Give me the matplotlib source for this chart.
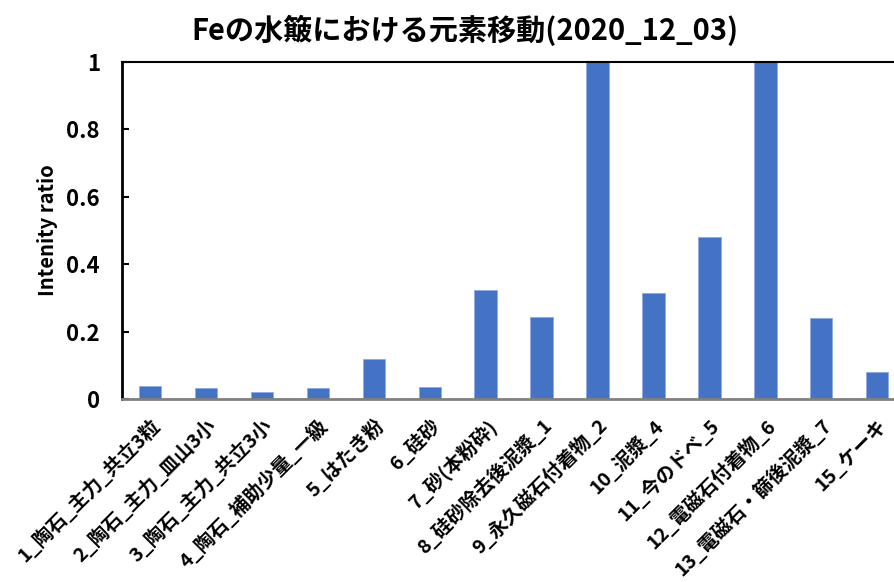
import matplotlib.pyplot as plt

plt.rcParams['font.family'] = ['Noto Sans CJK JP', 'DejaVu Sans']

# データ
labels = ["1_陶石_主力_共立3粒", "2_陶石_主力_皿山3小", "3_陶石_主力_共立3小",
          "4_陶石_補助少量_一級", "5_はたき粉", "6_硅砂", "7_砂(本粉砕)",
          "8_硅砂除去後泥漿_1", "9_永久磁石付着物_2", "10_泥漿_4", "11_今のドベ_5",
          "12_電磁石付着物_6", "13_電磁石・篩後泥漿_7", "15_ケーキ"]
values = [0.039, 0.034, 0.021, 0.034, 0.12, 0.036, 0.323,
          0.243, 1.0, 0.314, 0.48, 1.0, 0.24, 0.08]
yticks = [0, 0.2, 0.4, 0.6, 0.8, 1]
yticklabels = ["0", "0.2", "0.4", "0.6", "0.8", "1"]

fig = plt.figure(figsize=(8.94, 5.82), dpi=100)
ax = fig.add_axes([0.1365, 0.3144, 0.8635, 0.579])

x = list(range(len(labels)))
ax.bar(x, values, width=0.4, color="#4472C4", edgecolor="#8FAADC", linewidth=0.6)

ax.set_xlim(-0.5, 13.3)
ax.set_ylim(0, 1)
ax.set_yticks(yticks)
ax.set_yticklabels(yticklabels, fontsize=16, fontweight="bold")
ax.tick_params(axis="y", direction="in", length=5, width=1.5, pad=16)
ax.set_xticks(x)
ax.set_xticklabels(labels, rotation=45, ha="right", rotation_mode="anchor",
                   fontsize=14, fontweight="bold")
ax.tick_params(axis="x", length=0, pad=12)

ax.spines["right"].set_visible(False)
ax.spines["left"].set_linewidth(2)
ax.spines["top"].set_linewidth(1.5)
ax.spines["bottom"].set_color("#808080")
ax.spines["bottom"].set_linewidth(2)

ax.set_ylabel("Intenity ratio", fontsize=14.5, fontweight="bold", labelpad=6)
fig.suptitle("Feの水簸における元素移動(2020_12_03)", x=0.52, y=0.975,
             fontsize=21, fontweight="bold")

fig.savefig("out.png", dpi=100)
